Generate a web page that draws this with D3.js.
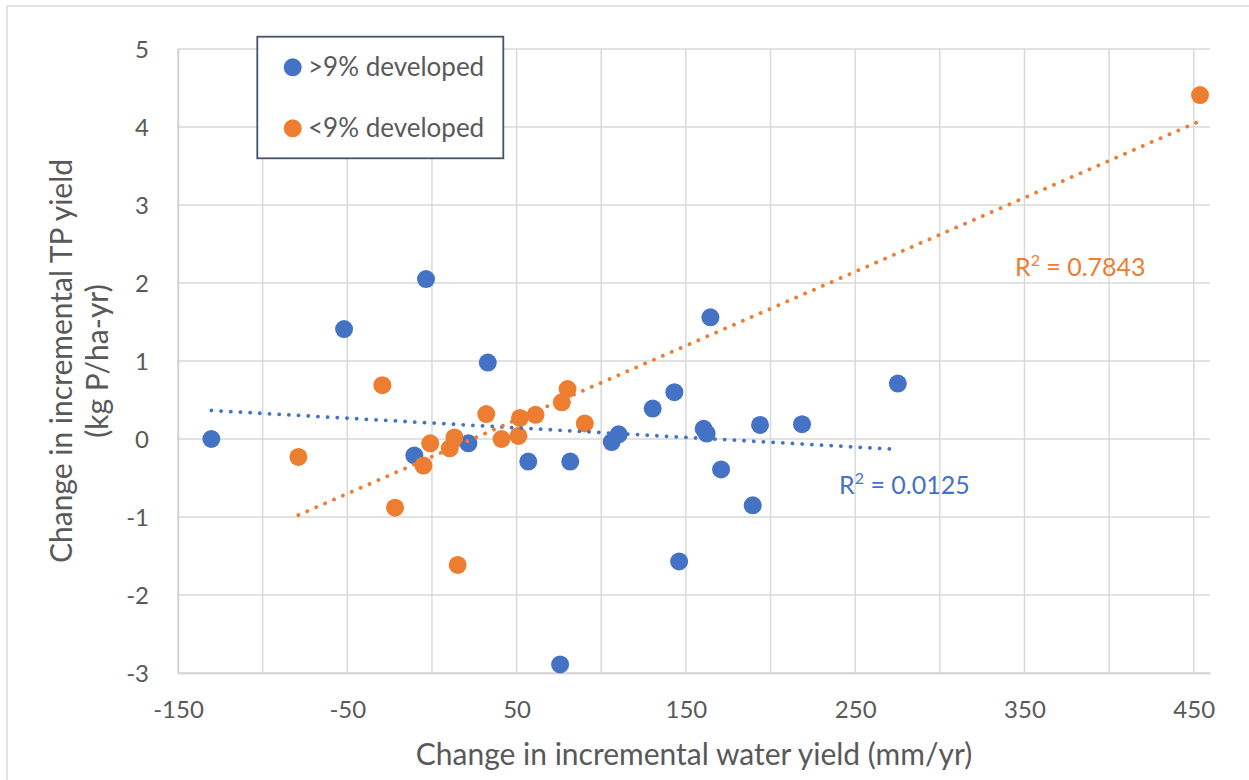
<!DOCTYPE html>
<html>
<head>
<meta charset="utf-8">
<script src="https://cdn.jsdelivr.net/npm/d3@7.9.0/dist/d3.min.js"></script>
<style>
  body { margin: 0; background: #fff; }
  svg text { font-family: Lato, "Open Sans", sans-serif; fill: #595959; }
</style>
</head>
<body>
<svg id="chart" width="1249" height="780"></svg>
<script>
// --- data ---
const seriesNames = [">9% developed", "<9% developed"];
const seriesColors = ["#4472C4", "#ED7D31"];

// >9% developed
const developedX = [-130.3, -51.9, -3.5, 33.0, -10.4, 21.5, 56.9, 81.7, 75.7, 106.2, 110.3,
  130.4, 143.2, 146.0, 164.5, 160.5, 162.3, 170.8, 189.5, 193.8, 218.6, 275.2];
const developedY = [0.0, 1.41, 2.05, 0.98, -0.21, -0.055, -0.29, -0.29, -2.89, -0.04, 0.06,
  0.39, 0.60, -1.57, 1.56, 0.13, 0.07, -0.39, -0.85, 0.18, 0.19, 0.71];

// <9% developed
const lessDevelopedX = [-78.9, -29.3, -21.8, -5.0, -1.0, 10.5, 13.3, 15.2, 32.1, 41.1, 51.1,
  52.0, 61.2, 76.7, 80.1, 90.3, 453.7];
const lessDevelopedY = [-0.23, 0.69, -0.88, -0.34, -0.055, -0.12, 0.02, -1.615, 0.32, 0.0, 0.04,
  0.27, 0.31, 0.47, 0.64, 0.20, 4.41];

const rSquared = ["0.0125", "0.7843"];

const xTicks = [-150, -50, 50, 150, 250, 350, 450];
const xGrid = [-150, -100, -50, 0, 50, 100, 150, 200, 250, 300, 350, 400, 450];
const yTicks = [-3, -2, -1, 0, 1, 2, 3, 4, 5];

const xTitle = "Change in incremental water yield (mm/yr)";
const yTitle = ["Change in incremental TP yield", "(kg P/ha-yr)"];

// --- layout ---
const svg = d3.select("#chart");
const plot = { left: 178, right: 1210, top: 49, bottom: 673 };

const x = d3.scaleLinear().domain([-150, 459.6]).range([plot.left, plot.right]);
const y = d3.scaleLinear().domain([-3, 5]).range([plot.bottom, plot.top]);

// outer chart border (runs off the right/bottom edge like the screenshot)
svg.append("rect")
  .attr("x", 7).attr("y", 6).attr("width", 1260).attr("height", 790)
  .attr("fill", "none").attr("stroke", "#D9D9D9").attr("stroke-width", 1.5);

// gridlines
svg.append("g").selectAll("line").data(xGrid).join("line")
  .attr("x1", d => x(d)).attr("x2", d => x(d))
  .attr("y1", plot.top).attr("y2", plot.bottom)
  .attr("stroke", "#D9D9D9").attr("stroke-width", 1.5);

svg.append("g").selectAll("line").data(yTicks).join("line")
  .attr("x1", plot.left).attr("x2", plot.right)
  .attr("y1", d => y(d)).attr("y2", d => y(d))
  .attr("stroke", "#D9D9D9").attr("stroke-width", 1.5);

// axes: labels only, plain hyphen for negatives like Excel
const plain = d => String(d);

const xAxis = d3.axisBottom(x).tickValues(xTicks).tickFormat(plain).tickSize(0).tickPadding(0);
const gx = svg.append("g").attr("transform", `translate(0,${plot.bottom})`).call(xAxis);
gx.select(".domain").attr("stroke", "#D0D0D0").attr("stroke-width", 1.5);
gx.selectAll("text").attr("y", 37).attr("dy", "0.35em")
  .style("font-size", "24px").style("font-family", null);

const yAxis = d3.axisLeft(y).tickValues(yTicks).tickFormat(plain).tickSize(0).tickPadding(0);
const gy = svg.append("g").attr("transform", `translate(${plot.left},0)`).call(yAxis);
gy.select(".domain").attr("stroke", "#D0D0D0").attr("stroke-width", 1.5);
gy.selectAll("text").attr("x", -29).attr("dy", "0.35em")
  .style("font-size", "24px").style("font-family", null);
svg.selectAll(".tick text").attr("fill", "#595959");

// axis titles
svg.append("text")
  .attr("x", (plot.left + plot.right) / 2).attr("y", 765)
  .attr("text-anchor", "middle").style("font-size", "30px")
  .text(xTitle);

const yt = svg.append("text")
  .attr("transform", `translate(72,${(plot.top + plot.bottom) / 2}) rotate(-90)`)
  .attr("text-anchor", "middle").style("font-size", "30px");
yt.append("tspan").attr("x", 0).attr("y", 0).text(yTitle[0]);
yt.append("tspan").attr("x", 0).attr("y", 36).text(yTitle[1]);

// points
const series = [
  { xs: developedX, ys: developedY },
  { xs: lessDevelopedX, ys: lessDevelopedY }
];

series.forEach((s, i) => {
  const pts = s.xs.map((v, j) => [v, s.ys[j]]);
  svg.append("g").selectAll("circle").data(pts).join("circle")
    .attr("cx", d => x(d[0])).attr("cy", d => y(d[1])).attr("r", 9)
    .attr("fill", seriesColors[i]);
});

// linear trendlines, least squares, over each series' x range
series.forEach((s, i) => {
  const mx = d3.mean(s.xs), my = d3.mean(s.ys);
  const sxy = d3.sum(s.xs, (v, j) => (v - mx) * (s.ys[j] - my));
  const sxx = d3.sum(s.xs, v => (v - mx) * (v - mx));
  const slope = sxy / sxx, icpt = my - slope * mx;
  const ext = d3.extent(s.xs);
  svg.append("path")
    .attr("d", d3.line()(ext.map(v => [x(v), y(icpt + slope * v)])))
    .attr("stroke", seriesColors[i]).attr("stroke-width", 3.8)
    .attr("stroke-linecap", "round").attr("stroke-dasharray", "0.1 9.6")
    .attr("fill", "none");
});

// R² labels (anchor in data units)
const rPos = [[240.5, -0.70], [344.4, 2.09]];
rSquared.forEach((r, i) => {
  const t = svg.append("text")
    .attr("x", x(rPos[i][0])).attr("y", y(rPos[i][1]))
    .style("font-size", "25px").style("fill", seriesColors[i]);
  t.append("tspan").text("R");
  t.append("tspan").attr("dy", -10).style("font-size", "16px").text("2");
  t.append("tspan").attr("dy", 10).text(" = " + r);
});

// legend
const lg = svg.append("g");
lg.append("rect").attr("x", 257.3).attr("y", 36.7).attr("width", 246).attr("height", 121.6)
  .attr("fill", "#fff").attr("stroke", "#44546A").attr("stroke-width", 1.8);
seriesNames.forEach((name, i) => {
  const cy = 67.3 + i * 61;
  lg.append("circle").attr("cx", 292.7).attr("cy", cy).attr("r", 9).attr("fill", seriesColors[i]);
  lg.append("text").attr("x", 308).attr("y", cy).attr("dy", "0.35em")
    .style("font-size", "26px").text(name);
});
</script>
</body>
</html>
